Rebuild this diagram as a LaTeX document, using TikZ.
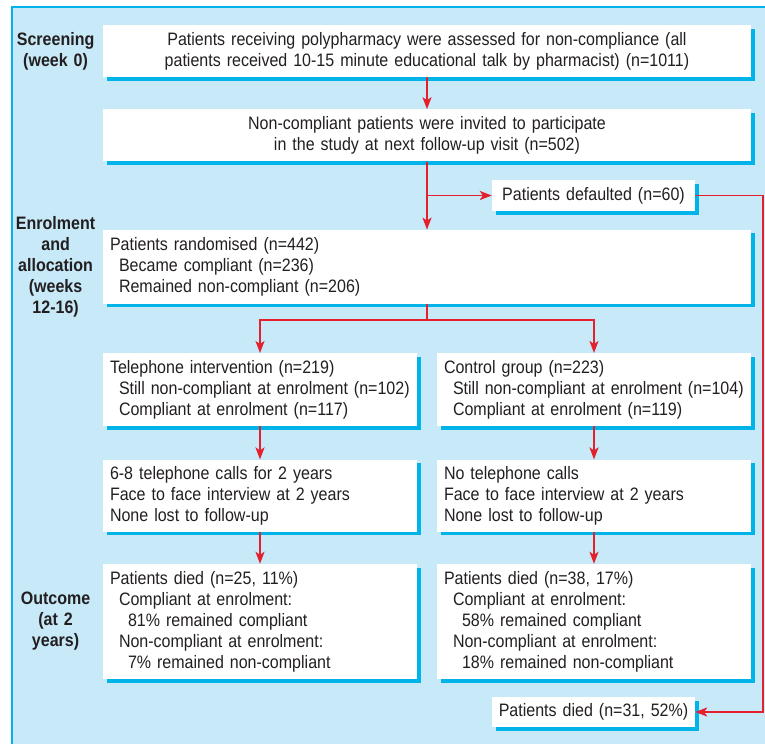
\documentclass[tikz,border=0pt]{standalone}
\usepackage{fontspec}
\setmainfont{Liberation Sans}[FakeStretch=0.89]
\usepackage{tikz}
\usetikzlibrary{positioning,shadows,arrows.meta}
\definecolor{panel}{HTML}{C7E9F8}
\definecolor{edgeblue}{HTML}{00B3E8}
\definecolor{flow}{HTML}{E4202C}
\definecolor{ink}{HTML}{231F20}
\tikzset{
  box/.style={fill=white,text=ink,inner xsep=7pt,inner ysep=2pt,
    drop shadow={shadow xshift=3.5pt,shadow yshift=-3.5pt,fill=edgeblue,opacity=1}},
  wide/.style={box,text width=634pt,align=center,minimum height=52pt},
  col/.style={box,text width=300pt,align=left},
  small/.style={box,inner xsep=3pt,text width=197pt,align=center,minimum height=31pt},
  stage/.style={text=ink,font=\bfseries\fontsize{18}{21}\selectfont,text width=92pt,align=center,inner sep=0pt},
  arr/.style={flow,line width=1.8pt,-{Stealth[length=12pt,width=9pt,inset=3pt]}},
  wire/.style={flow,line width=1.8pt}
}
\newcommand{\ind}{\hspace*{9pt}}
\begin{document}
\begin{tikzpicture}[x=1pt,y=-1pt,font=\fontsize{18}{21}\selectfont]
  \useasboundingbox (0,0) rectangle (765,744);
  \fill[panel] (12,7) rectangle (765,744);
  \draw[edgeblue,line width=1.5pt] (12,744) -- (12,7) -- (765,7);

  \node[wide] (screen) at (427,51) {Patients receiving polypharmacy were assessed for non-compliance (all\\ patients received 10-15 minute educational talk by pharmacist) (n=1011)};
  \node[wide,below=32pt of screen] (invited) {Non-compliant patients were invited to participate\\ in the study at next follow-up visit (n=502)};
  \node[small] (defaulted) at (593.5,195.5) {Patients defaulted (n=60)};
  \node[wide,align=left,minimum height=74pt,below=68pt of invited] (rand) {Patients randomised (n=442)\\ \ind Became compliant (n=236)\\ \ind Remained non-compliant (n=206)};

  \node[col,minimum height=73pt,below right=49pt and 0pt of rand.south west] (tel) {Telephone intervention (n=219)\\ \ind Still non-compliant at enrolment (n=102)\\ \ind Compliant at enrolment (n=117)};
  \node[col,minimum height=73pt,below left=49pt and 0pt of rand.south east] (ctrl) {Control group (n=223)\\ \ind Still non-compliant at enrolment (n=104)\\ \ind Compliant at enrolment (n=119)};
  \node[col,minimum height=72pt,below=33pt of tel] (telcalls) {6-8 telephone calls for 2 years\\ Face to face interview at 2 years\\ None lost to follow-up};
  \node[col,minimum height=72pt,below=33pt of ctrl] (nocalls) {No telephone calls\\ Face to face interview at 2 years\\ None lost to follow-up};
  \node[col,minimum height=115pt,below=32pt of telcalls] (teldied) {Patients died (n=25, 11\%)\\ \ind Compliant at enrolment:\\ \ind\ind 81\% remained compliant\\ \ind Non-compliant at enrolment:\\ \ind\ind 7\% remained non-compliant};
  \node[col,minimum height=115pt,below=32pt of nocalls] (ctrldied) {Patients died (n=38, 17\%)\\ \ind Compliant at enrolment:\\ \ind\ind 58\% remained compliant\\ \ind Non-compliant at enrolment:\\ \ind\ind 18\% remained non-compliant};
  \node[small,minimum height=30pt] (defdied) at (593.5,712) {Patients died (n=31, 52\%)};

  \node[stage,left=1pt of screen] (lscreen) {Screening\\ (week 0)};
  \node[stage,left=1pt of rand] (lenrol) {Enrolment\\ and\\ allocation\\ (weeks\\ 12-16)};
  \node[stage,left=1pt of teldied] (loutcome) {Outcome\\ (at 2\\ years)};

  \coordinate (split) at ([yshift=-16pt]rand.south);
  \draw[arr] (screen) -- (invited);
  \draw[arr] (invited) -- (rand);
  \draw[arr] (invited.south |- defaulted.west) -- (defaulted.west);
  \draw[wire] (rand.south) -- (split);
  \draw[arr] (split) -| (tel.north);
  \draw[arr] (split) -| (ctrl.north);
  \draw[arr] (tel) -- (telcalls);
  \draw[arr] (telcalls) -- (teldied);
  \draw[arr] (ctrl) -- (nocalls);
  \draw[arr] (nocalls) -- (ctrldied);
  \draw[arr] (defaulted.east) -- ++(68,0) |- (defdied.east);
\end{tikzpicture}
\end{document}
